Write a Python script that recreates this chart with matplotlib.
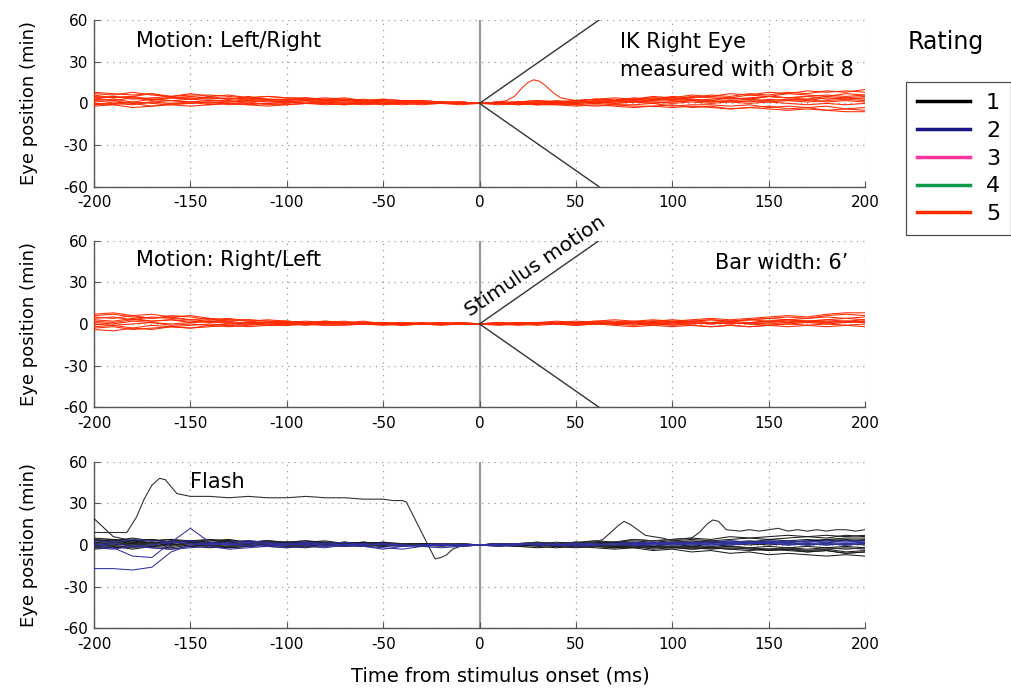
import matplotlib
matplotlib.use("Agg")
import matplotlib.pyplot as plt
import numpy as np
from matplotlib.lines import Line2D

plt.rcParams["font.family"] = "DejaVu Sans"
plt.rcParams["axes.unicode_minus"] = False

# common time base of the ordinary traces (ms)
T10 = np.arange(-200, 201, 10)

# stimulus path from onset (ms, min)
stim_t = [0, 62]
stim_y = [0, 60]

# rating legend
ratings = ["1", "2", "3", "4", "5"]
rating_colors = ["#000000", "#16167e", "#ff3399", "#0b9a48", "#ff2a00"]

# --- Motion: Left/Right, every trial rated 5 (min, sampled on T10)
lr_traces = [
    [7, 6, 8, 6, 5, 7, 5, 6, 4, 5, 4, 3, 4, 3, 2, 3, 2, 1, 1, 1, 0, 1, 1, 2, 1, 2, 3, 4, 3, 5, 4, 6, 5, 7, 6, 8, 7, 9, 8, 9, 8],
    [4, 5, 3, 4, 5, 3, 4, 3, 4, 2, 3, 3, 2, 2, 3, 1, 2, 1, 0, 1, 0, 0, 1, 0, 1, 1, 0, 2, 1, 2, 3, 2, 3, 4, 3, 5, 4, 5, 6, 5, 6],
    [1, 2, 0, 1, 2, 1, 0, 1, 2, 1, 1, 0, 1, 2, 1, 0, 1, 0, 1, 0, 0, -1, 0, -1, 0, -1, 0, -1, -1, 0, -2, -1, -1, -2, -1, -3, -2, -3, -2, -4, -3],
    [-2, -1, -3, -2, -1, -2, -1, 0, -1, -2, -1, 0, -1, 0, -1, 0, -1, 0, 0, -1, 0, 0, -1, 0, -1, 0, 1, 0, 1, 0, 1, 2, 1, 2, 1, 3, 2, 1, 2, 3, 2],
    [5, 4, 5, 3, 4, 4, 3, 4, 2, 3, 3, 2, 3, 2, 2, 1, 2, 1, 1, 0, 0, 1, 0, 1, 2, 1, 2, 3, 2, 4, 3, 4, 5, 4, 6, 5, 7, 6, 5, 7, 6],
    [2, 3, 1, 3, 2, 1, 2, 1, 3, 2, 1, 2, 0, 1, 1, 0, 1, 0, 0, 1, 0, 0, 0, -1, 0, -1, -2, -1, -2, -2, -3, -2, -3, -4, -3, -4, -5, -4, -5, -6, -6],
    [8, 7, 6, 7, 5, 6, 6, 5, 4, 5, 4, 4, 3, 4, 2, 3, 2, 2, 1, 1, 0, 0, 1, 1, 0, 1, 0, 1, 2, 1, 1, 2, 1, 2, 3, 2, 3, 2, 4, 3, 4],
    [0, -1, 1, 0, -1, 0, 1, -1, 0, 0, -1, 0, 1, 0, 0, -1, 0, 1, 0, 0, 0, 0, 1, 2, 1, 2, 3, 2, 4, 3, 5, 4, 6, 5, 7, 6, 8, 7, 9, 8, 10],
    [3, 2, 4, 3, 2, 3, 2, 2, 1, 2, 1, 2, 1, 1, 0, 1, 0, 1, 0, 0, 0, 0, 0, 0, 1, 0, 1, 0, 1, 1, 0, 1, 0, 1, 0, 1, 0, -1, 0, -1, 0],
    [6, 4, 5, 7, 4, 5, 4, 3, 5, 3, 2, 3, 2, 3, 1, 2, 1, 1, 0, 1, 0, 0, -1, 0, 1, 0, 2, 1, 3, 2, 4, 3, 2, 4, 3, 5, 4, 3, 5, 4, 3],
    [-1, 1, 0, -2, 0, 1, -1, 0, 1, -1, 0, 1, 0, -1, 1, 0, 0, -1, 0, 0, 0, 1, 0, -1, -1, -2, -1, -2, -3, -2, -1, -3, -2, -4, -3, -2, -4, -3, -5, -4, -5],
    [3, 5, 4, 2, 4, 3, 5, 3, 4, 3, 2, 4, 2, 3, 2, 2, 1, 2, 1, 0, 0, 0, 0, 1, 0, 2, 1, 2, 1, 3, 2, 3, 2, 1, 2, 1, 2, 3, 1, 2, 1],
]
# the one trial with a small saccade after onset
lr_hop_t = [-200, -190, -180, -170, -160, -150, -140, -130, -120, -110, -100, -90, -80, -70, -60, -50, -40, -30, -20, -10, 0, 10,
            14, 18, 22, 25, 28, 31, 34, 38, 42, 46,
            50, 60, 70, 80, 90, 100, 110, 120, 130, 140, 150, 160, 170, 180, 190, 200]
lr_hop_y = [-1, 0, -1, 1, 0, 0, 1, 0, -1, 0, 1, 0, 0, -1, 0, 0, 1, 0, 0, 0, 0, 1,
            2, 5, 11, 15, 17, 16, 13, 8, 4, 3,
            2, 3, 2, 3, 4, 3, 5, 4, 3, 4, 5, 4, 5, 3, 4, 5]

# --- Motion: Right/Left
rl_traces = [
    [7, 8, 6, 7, 5, 6, 4, 3, 3, 2, 2, 1, 2, 1, 1, 0, 1, 0, 1, 0, 0, 1, 0, 1, 2, 1, 2, 1, 2, 3, 2, 3, 4, 3, 4, 5, 6, 5, 7, 8, 8],
    [4, 5, 3, 5, 4, 3, 2, 3, 2, 1, 2, 1, 1, 2, 0, 1, 0, 1, 0, 0, 0, 0, 1, 0, 1, 0, 1, 0, 1, 0, 1, 2, 1, 2, 1, 2, 3, 2, 3, 2, 3],
    [-3, -2, -4, -3, -2, -3, -1, -2, -1, 0, -1, 0, -1, 0, 0, -1, 0, 0, -1, 0, 0, -1, 0, -1, 0, -1, 0, -1, -2, -1, -2, -1, -2, -1, -2, -1, 0, -1, 0, -1, 0],
    [1, 0, 2, 1, 0, 1, 2, 1, 0, 1, 0, 1, 0, 1, 0, 1, 0, 0, 1, 0, 0, 0, 1, 0, 1, 2, 1, 0, 1, 0, -1, 0, 1, 0, 1, 2, 1, 2, 1, 2, 1],
    [-4, -5, -3, -4, -2, -3, -2, -1, -2, -1, -1, 0, -1, -1, 0, 0, -1, 0, 0, 0, 0, 0, 0, 1, 0, 1, 2, 3, 2, 1, 2, 1, 0, 1, 0, -1, 0, 1, 0, 1, 2],
    [5, 4, 6, 4, 5, 3, 4, 2, 3, 2, 1, 2, 1, 0, 1, 1, 0, 1, 0, 1, 0, 0, 1, 1, 0, 1, 1, 0, 1, 2, 1, 2, 3, 2, 3, 4, 3, 4, 5, 4, 5],
    [2, 1, 3, 2, 3, 1, 2, 0, 1, 1, 0, 1, 0, 0, 1, 0, 0, 0, 0, 0, 0, 1, 0, 0, 1, 0, 0, 1, 0, -1, 0, -1, -2, -1, -2, -1, -2, -1, -2, -1, -2],
    [0, -1, 0, 1, -1, 0, -1, 0, 1, 0, 0, -1, 0, 1, 0, 0, 1, 0, 0, 1, 0, 0, 0, 1, 0, 1, 0, 1, 1, 2, 1, 2, 1, 2, 3, 2, 3, 2, 3, 4, 3],
    [3, 2, 4, 2, 3, 2, 1, 2, 0, 1, 1, 0, 1, 0, 0, 1, 0, 0, 0, 1, 0, 0, 0, 0, 1, 0, 1, 0, 0, 1, 0, 1, 0, 1, 0, 1, 2, 1, 2, 1, 2],
    [-2, -1, -3, -1, -2, -1, 0, -1, 0, -1, 0, 0, 1, 0, 0, 0, -1, 0, 0, 0, 0, 0, -1, 0, 0, -1, 0, 0, -1, 0, 1, 0, 1, 0, 1, 0, 1, 2, 1, 2, 1],
    [6, 7, 5, 4, 6, 5, 3, 4, 2, 3, 2, 1, 2, 1, 2, 0, 1, 0, 1, 0, 0, 1, 0, 1, 1, 0, 1, 2, 1, 2, 3, 2, 3, 2, 3, 4, 5, 4, 6, 7, 6],
]

# --- Flash, ratings 1 (black) and 2 (blue)
flash_black = [
    [19, 6, 3, 4, 2, 3, 1, 2, 3, 1, 2, 1, 2, 0, 1, 2, 1, 0, 1, 0, 0, 1, 0, 1, 0, -1, 0, -1, -2, -1, -2, -3, -2, -3, -4, -3, -4, -5, -4, -6, -5],
    [3, 4, 2, 3, 4, 2, 3, 4, 2, 3, 2, 3, 1, 2, 1, 2, 0, 1, 1, 0, 0, 0, 1, 0, 1, 2, 1, 2, 3, 2, 3, 4, 3, 4, 5, 4, 5, 6, 5, 7, 6],
    [-2, -1, -3, -1, -2, 0, -1, -2, -1, 0, -1, -2, 0, -1, 0, -1, 0, -1, 0, 0, 0, -1, 0, -1, -2, -1, -2, -3, -2, -4, -3, -5, -4, -6, -5, -7, -6, -7, -8, -7, -8],
    [1, 0, 2, 1, 0, 1, 2, 0, 1, 2, 0, 1, 0, 1, 2, 0, 1, 0, 0, 1, 0, 0, 1, 0, 1, 0, 1, 2, 1, 2, 1, 2, 3, 2, 3, 2, 3, 4, 3, 4, 3],
    [4, 3, 5, 3, 4, 3, 2, 3, 2, 3, 1, 2, 3, 1, 2, 1, 1, 0, 1, 0, 0, 0, -1, 0, -1, 0, -1, -2, -1, -2, -1, -3, -2, -3, -2, -4, -3, -4, -3, -5, -4],
    [-1, 0, 1, -1, 0, 1, 0, -1, 0, 1, 0, -1, 0, 1, 0, 0, -1, 0, 0, -1, 0, 1, 0, 1, 2, 1, 3, 2, 4, 3, 4, 5, 4, 6, 5, 6, 7, 6, 7, 6, 7],
    [2, 1, 0, 2, 1, 3, 1, 2, 0, 1, 2, 1, 0, 1, 0, 1, 0, 1, 0, 0, 0, 0, 0, 1, 0, -1, 0, -1, 0, -1, -2, -1, -2, -1, -2, -3, -2, -1, -2, -1, -2],
    [0, 2, 1, 0, 3, 2, 1, 2, 1, 0, 1, 0, 1, 0, 1, 0, 1, 0, 0, 0, 0, 1, 1, 2, 1, 2, 1, 2, 1, 1, 2, 1, 2, 1, 0, 1, 0, 1, 0, 1, 0],
    [-3, -2, -1, -2, -3, -1, -2, -1, 0, -1, -2, -1, 0, -1, 0, -1, 0, 0, -1, 0, 0, 0, -1, 0, 0, -1, 0, -1, -1, -2, -1, -2, -3, -2, -3, -4, -3, -5, -4, -6, -5],
    [5, 4, 3, 4, 2, 3, 4, 2, 3, 2, 1, 2, 1, 2, 1, 0, 1, 1, 0, 0, 0, 1, 0, 1, 0, 1, 2, 1, 0, 1, 0, 1, 2, 1, 2, 3, 2, 3, 4, 5, 5],
    [2, 3, 1, 2, 0, 2, 1, 3, 2, 1, 2, 1, 0, 2, 1, 0, 1, 0, 1, 0, 0, 0, -1, -2, -1, -2, -1, -2, -1, -3, -2, -1, -2, -1, -2, -1, -2, -3, -2, -3, -2],
    [-1, -2, 0, -1, 1, -1, 0, -2, -1, 0, -1, 0, -1, 0, -1, 0, 0, 1, 0, 0, 0, 1, 0, 0, 1, 0, 2, 1, 2, 1, 2, 3, 2, 3, 2, 4, 3, 2, 4, 3, 4],
    [4, 2, 3, 1, 3, 2, 4, 3, 2, 3, 2, 3, 2, 1, 2, 1, 0, 1, 0, 1, 0, 0, 0, 1, 0, 0, -1, 0, -1, 0, -1, 0, -1, 0, 1, 0, 1, 0, 1, 0, 1],
]
flash_blue = [
    [-17, -17, -18, -16, -5, 0, 1, 0, 2, 1, 0, 1, -1, 0, 1, 0, -1, 0, 0, 0, 0, 1, 0, 1, 0, 1, 0, 1, 2, 1, 2, 1, 2, 3, 2, 3, 2, 3, 2, 3, 2],
    [1, -2, -8, -9, 2, 12, 2, 0, 1, -1, 0, 1, 0, -1, 0, 1, 0, -1, 0, 0, 0, 0, 1, 0, 1, 0, 0, 1, 0, 1, 0, 1, 0, 1, 2, 1, 0, 1, 2, 1, 2],
    [3, 2, 4, 3, 2, 3, 1, 2, 3, 2, 1, 2, 1, 2, 0, 1, 0, -1, -2, -1, 0, 0, 0, 1, 0, 1, 1, 0, 1, 2, 1, 2, 1, 0, 1, 2, 1, 0, 1, 0, 1],
    [-2, -3, -1, -2, -3, -2, -1, -3, -2, -1, -2, -1, -2, 0, -1, -2, -3, -1, 0, -1, 0, -1, 0, 1, 0, -1, 0, 1, 0, 0, 1, 0, 1, 2, 1, 2, 3, 2, 3, 2, 3],
    [0, 1, -1, 0, 2, 1, 0, 1, -1, 0, 1, 0, 1, 0, -1, -3, -1, 0, 1, 0, 0, 0, 1, 0, 0, 1, 0, 1, 0, 1, 2, 1, 0, 1, 2, 1, 2, 1, 0, 1, 2],
]
# long fixation shift before the flash
flash_shift_t = [-200, -190, -183, -178, -174, -170, -166, -163, -160, -157, -150, -140, -130, -120, -110, -100,
                 -90, -80, -70, -60, -50, -45, -40, -38, -34, -30, -26, -23, -20, -17, -14, -10,
                 0, 10, 20, 30, 40, 50, 60, 70, 80, 90, 100, 110, 120, 130, 140, 150, 160, 170, 180, 190, 200]
flash_shift_y = [9, 9, 9, 20, 33, 43, 48, 47, 42, 37, 35, 35, 34, 35, 34, 34,
                 35, 34, 34, 33, 33, 32, 32, 31, 20, 9, -2, -10, -9, -7, -3, -1,
                 0, 0, 1, 0, 1, 0, -1, 0, -1, -2, -1, -2, -1, -3, -2, -3, -2, -4, -3, -2, -3]
# two late saccades
flash_hop1_t = [-200, -190, -180, -170, -160, -150, -140, -130, -120, -110, -100, -90, -80, -70, -60, -50, -40, -30, -20, -10,
                0, 10, 20, 30, 40, 50, 60, 64, 68, 72, 75, 78, 82, 86, 90, 95, 100,
                110, 120, 130, 140, 150, 160, 170, 180, 190, 200]
flash_hop1_y = [1, 2, 0, 1, 2, 1, 0, 1, 2, 1, 0, 1, 0, 1, 0, 1, 0, 0, 1, 0,
                0, 1, 0, 1, 0, 1, 2, 4, 9, 14, 17, 15, 11, 7, 6, 5, 3,
                2, 3, 1, 2, 1, 2, 0, 1, 0, 1]
flash_hop2_t = [-200, -190, -180, -170, -160, -150, -140, -130, -120, -110, -100, -90, -80, -70, -60, -50, -40, -30, -20, -10,
                0, 10, 20, 30, 40, 50, 60, 70, 80, 90, 100, 110,
                114, 118, 121, 124, 128, 135, 140, 145, 150, 155, 160, 165, 170, 175, 180, 185, 190, 195, 200]
flash_hop2_y = [-1, 0, -2, 0, -1, 1, 0, -1, 0, 1, -1, 0, 1, 0, -1, 0, 1, 0, 0, 1,
                0, 0, 1, 2, 1, 2, 3, 2, 4, 3, 4, 5,
                9, 15, 18, 17, 11, 10, 11, 10, 11, 12, 10, 11, 10, 11, 10, 11, 11, 10, 11]

RED = "#ff2a00"
BLACK = "#1c1c1c"
BLUE = "#3030a8"
LW = 0.75

fig = plt.figure(figsize=(10.12, 6.91), dpi=100)
left, width, height = 0.0929, 0.7619, 0.2412
bottoms = [0.7298, 0.4106, 0.0907]
axes = [fig.add_axes([left, b, width, height]) for b in bottoms]


def style_axis(ax):
    ax.set_xlim(-200, 200)
    ax.set_ylim(-60, 60)
    ax.set_xticks(np.arange(-200, 201, 50))
    ax.set_yticks([-60, -30, 0, 30, 60])
    ax.grid(True, color="#9a9a9a", linestyle=(0, (1, 4)), linewidth=0.9)
    for side in ("top", "right"):
        ax.spines[side].set_visible(False)
    for side in ("left", "bottom"):
        ax.spines[side].set_color("#555555")
        ax.spines[side].set_linewidth(1.0)
    ax.tick_params(direction="in", length=4, width=0.8, color="#555555", labelsize=11, pad=4)
    ax.tick_params(axis="x", pad=6)
    ax.set_ylabel("Eye position (min)", fontsize=13)
    ax.yaxis.set_label_coords(-0.072, 0.5)
    ax.axvline(0, color="#9a9a9a", linewidth=1.6, zorder=1)


for ax in axes:
    style_axis(ax)

# stimulus path in the two motion panels
for ax in axes[:2]:
    ax.plot(stim_t, stim_y, color="#333333", linewidth=1.0, zorder=4)
    ax.plot(stim_t, np.negative(stim_y), color="#333333", linewidth=1.0, zorder=4)

ax1, ax2, ax3 = axes
for y in lr_traces:
    ax1.plot(T10, y, color=RED, linewidth=LW, zorder=3)
ax1.plot(lr_hop_t, lr_hop_y, color=RED, linewidth=LW, zorder=3)
ax1.text(-178, 45, "Motion: Left/Right", fontsize=15, va="center")
ax1.text(73, 44, "IK Right Eye", fontsize=15, va="center")
ax1.text(73, 24, "measured with Orbit 8", fontsize=15, va="center")

for y in rl_traces:
    ax2.plot(T10, y, color=RED, linewidth=LW, zorder=3)
ax2.text(-178, 46, "Motion: Right/Left", fontsize=15, va="center")
ax2.text(122, 44, "Bar width: 6\u2019", fontsize=15, va="center")
ax2.text(-5, 5, "Stimulus motion", fontsize=14.5, rotation=34,
         rotation_mode="anchor", ha="left", va="baseline")

for y in flash_black:
    ax3.plot(T10, y, color=BLACK, linewidth=LW, zorder=3)
ax3.plot(flash_shift_t, flash_shift_y, color="#333333", linewidth=0.8, zorder=3)
ax3.plot(flash_hop1_t, flash_hop1_y, color="#333333", linewidth=0.8, zorder=3)
ax3.plot(flash_hop2_t, flash_hop2_y, color="#333333", linewidth=0.8, zorder=3)
for y in flash_blue:
    ax3.plot(T10, y, color=BLUE, linewidth=LW, zorder=3)
ax3.text(-150, 45, "Flash", fontsize=15, va="center")

fig.text(500 / 1012, 1 - 676 / 691, "Time from stimulus onset (ms)", fontsize=14,
         ha="center", va="center")

handles = [Line2D([], [], color=c, linewidth=2.5) for c in rating_colors]
leg = fig.legend(handles, ratings, loc="upper left", bbox_to_anchor=(906 / 1012, 1 - 82 / 691),
                 bbox_transform=fig.transFigure, fontsize=16, frameon=True, fancybox=False,
                 edgecolor="#222222", handlelength=2.4, handletextpad=0.7, labelspacing=0.35,
                 borderpad=0.5, borderaxespad=0)
leg.get_frame().set_linewidth(0.9)
fig.text(908 / 1012, 1 - 42 / 691, "Rating", fontsize=17, va="center")

fig.savefig("out.png", dpi=100)
